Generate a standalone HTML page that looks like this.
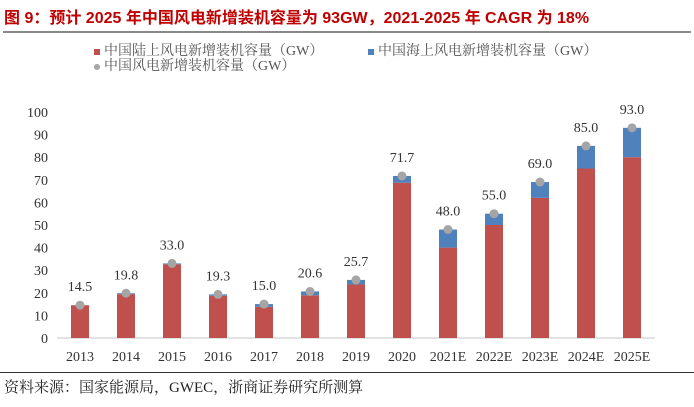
<!DOCTYPE html>
<html><head><meta charset="utf-8"><style>
body{margin:0;background:#fff;width:694px;height:407px;overflow:hidden;position:relative;font-family:"Liberation Serif","Noto Serif CJK SC",serif}
.t{position:absolute;white-space:nowrap}
</style></head><body>
<div class="t" style="left:4px;top:4px;font:bold 16px 'Liberation Sans','Noto Sans CJK SC',sans-serif;color:#c00000">图 9：预计 2025 年中国风电新增装机容量为 93GW，2021-2025 年 CAGR 为 18%</div>
<div style="position:absolute;left:3px;top:31px;width:688px;height:2px;background:#888"></div>
<svg id="c" width="694" height="407" style="position:absolute;left:0;top:0"></svg>
<div style="position:absolute;left:0;top:372px;width:694px;height:1px;background:#333"></div>
<div class="t" style="left:4px;top:376px;font-size:15px;color:#222">资料来源：国家能源局，GWEC，浙商证券研究所测算</div>
<script>
const cats=["2013","2014","2015","2016","2017","2018","2019","2020","2021E","2022E","2023E","2024E","2025E"];
const onshore=[14.5,19.4,32.6,18.7,13.8,18.9,23.7,68.7,40,50,62,75,80];
const offshore=[0,0.4,0.4,0.6,1.2,1.7,2.0,3.0,8,5,7,10,13];
const totals=[14.5,19.8,33.0,19.3,15.0,20.6,25.7,71.7,48.0,55.0,69.0,85.0,93.0];
const yTicks=[0,10,20,30,40,50,60,70,80,90,100];
const svg=document.getElementById('c'),NS='http://www.w3.org/2000/svg';
const x0=57,x1=655,yb=338,yt=112,step=(x1-x0)/cats.length,bw=18;
const Y=v=>yb-(v/100)*(yb-yt), X=i=>x0+step*(i+0.5);
function mk(t,a){const e=document.createElementNS(NS,t);for(const k in a)e.setAttribute(k,a[k]);svg.appendChild(e);return e;}
yTicks.forEach(v=>{const e=mk('text',{x:48,y:Y(v)+5,'text-anchor':'end','font-size':14,fill:'#333'});e.textContent=v;

});
const ax=mk('line',{x1:x0,x2:x1,y1:yb,y2:yb,stroke:'#d9d9d9','stroke-width':1.5});


cats.forEach((c,i)=>{
const r=mk('rect',{x:X(i)-bw/2,y:Y(onshore[i]),width:bw,height:yb-Y(onshore[i]),fill:'#c0504d'});


const b=mk('rect',{x:X(i)-bw/2,y:Y(onshore[i]+offshore[i]),width:bw,height:Y(onshore[i])-Y(onshore[i]+offshore[i]),fill:'#4f81bd'});


const d=mk('circle',{cx:X(i),cy:Y(totals[i]),r:4.5,fill:'#a5a5a5'});


const l=mk('text',{x:X(i),y:Y(totals[i])-14,'text-anchor':'middle','font-size':14,fill:'#333'});l.textContent=totals[i].toFixed(1);


const xl=mk('text',{x:X(i),y:361,'text-anchor':'middle','font-size':14,fill:'#333'});xl.textContent=c;


});
</script>
<div>
<div class="t" style="left:94px;top:40px;font-size:14px;color:#555"><span style="display:inline-block;width:6px;height:6px;background:#c0504d;margin-right:4px"></span>中国陆上风电新增装机容量（GW）</div>
<div class="t" style="left:368px;top:40px;font-size:14px;color:#555"><span style="display:inline-block;width:6px;height:6px;background:#4f81bd;margin-right:4px"></span>中国海上风电新增装机容量（GW）</div>
<div class="t" style="left:94px;top:55px;font-size:14px;color:#555"><span style="display:inline-block;width:6px;height:6px;border-radius:50%;background:#a5a5a5;margin-right:4px"></span>中国风电新增装机容量（GW）</div>
</div>
</body></html>
